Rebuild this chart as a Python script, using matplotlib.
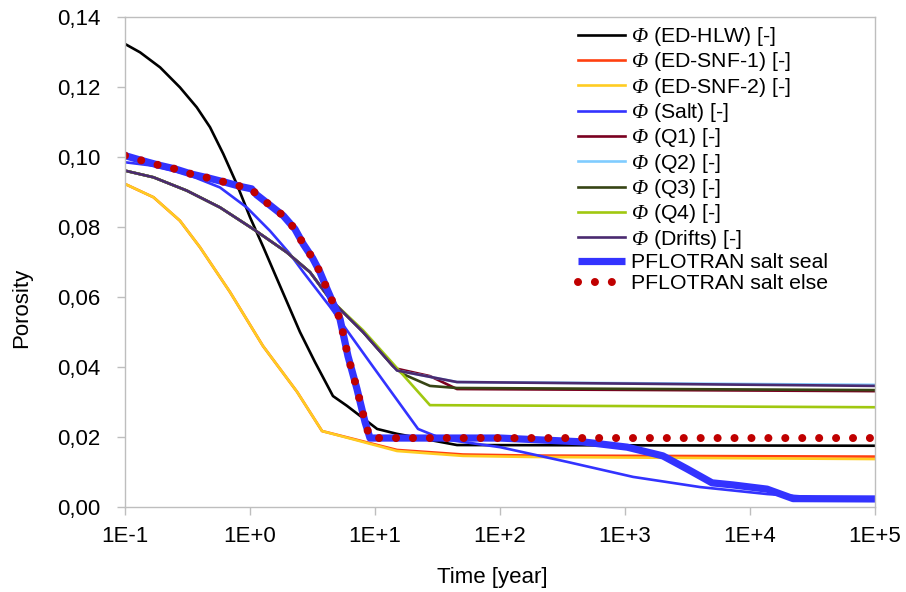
import numpy as np
import matplotlib
matplotlib.use("Agg")
import matplotlib.pyplot as plt
from matplotlib.ticker import FixedLocator, FuncFormatter, NullLocator

plt.rcParams['font.family'] = ['Liberation Sans', 'DejaVu Sans']
# Greek capitals are set in the math "rm" slot, so point it at a serif italic
plt.rcParams['mathtext.fontset'] = 'custom'
plt.rcParams['mathtext.rm'] = 'Liberation Serif:italic'
plt.rcParams['mathtext.it'] = 'Liberation Serif:italic'

# ---- data (time in years, porosity in [-]) ----
t_hlw = [0.1, 0.132, 0.191, 0.275, 0.375, 0.479, 0.611, 0.783, 1.0, 1.28, 1.58, 2.51, 3.31, 4.61, 5.97, 10.4, 15.0, 45.3, 1e5]
phi_hlw = [0.1323, 0.1299, 0.1256, 0.1199, 0.1142, 0.1085, 0.1009, 0.0923, 0.0828, 0.0742, 0.0666, 0.050, 0.0414,
           0.0317, 0.0289, 0.0223, 0.0209, 0.0177, 0.0175]

t_snf = [0.1, 0.169, 0.275, 0.398, 0.541, 0.692, 1.27, 2.38, 3.77, 15.0, 50.6, 174, 1e5]
phi_snf1 = [0.0923, 0.0885, 0.0818, 0.0742, 0.0671, 0.0614, 0.046, 0.0329, 0.0217, 0.0163, 0.0150, 0.0147, 0.0144]
phi_snf2 = [0.0923, 0.0885, 0.0818, 0.0742, 0.0671, 0.0614, 0.046, 0.0329, 0.0217, 0.0160, 0.0146, 0.0143, 0.0137]

t_salt = [0.1, 0.169, 0.312, 0.575, 0.941, 1.445, 2.089, 2.67, 4.37, 9.55, 22.1, 35.0, 100, 344, 1160, 3980, 13700,
          31600, 1e5]
phi_salt = [0.0985, 0.0975, 0.0951, 0.0913, 0.0856, 0.0789, 0.0723, 0.0671, 0.0572, 0.0403, 0.0223, 0.0194, 0.0171,
            0.0129, 0.0086, 0.0057, 0.0037, 0.0028, 0.0022]

t_drift = [0.1, 0.169, 0.312, 0.575, 1.063, 1.963, 3.02, 4.37, 8.02, 13.9, 15.0, 45.3, 1e5]
phi_drift = [0.0961, 0.0942, 0.0904, 0.0856, 0.0794, 0.0728, 0.0671, 0.0594, 0.050, 0.0403, 0.039, 0.0357, 0.0346]
phi_q2 = [0.0961, 0.0942, 0.0904, 0.0856, 0.0794, 0.0728, 0.0671, 0.0594, 0.050, 0.0403, 0.039, 0.0357, 0.0349]

t_q1 = [0.1, 0.169, 0.312, 0.575, 1.063, 1.963, 3.02, 4.37, 8.02, 13.9, 15.0, 27.5, 45.3, 1e5]
phi_q1 = [0.0961, 0.0942, 0.0904, 0.0856, 0.0794, 0.0728, 0.0671, 0.0594, 0.050, 0.0403, 0.0395, 0.0374, 0.0337, 0.0331]
t_q3 = [0.1, 0.169, 0.312, 0.575, 1.063, 1.963, 3.02, 4.37, 8.02, 13.9, 16.7, 27.5, 45.3, 1e5]
phi_q3 = [0.0961, 0.0942, 0.0904, 0.0856, 0.0794, 0.0728, 0.0671, 0.0594, 0.050, 0.0403, 0.038, 0.0346, 0.0340, 0.0334]
t_q4 = [0.1, 0.169, 0.312, 0.575, 1.063, 1.963, 3.02, 4.37, 8.02, 13.9, 27.5, 1e5]
phi_q4 = [0.0961, 0.0942, 0.0904, 0.0856, 0.0794, 0.0728, 0.0671, 0.0594, 0.0505, 0.0410, 0.0291, 0.0285]

t_seal = [0.1, 0.136, 0.185, 0.251, 0.341, 0.465, 0.631, 0.857, 1.03, 1.13, 1.46, 1.85, 2.29, 2.67, 3.17, 3.63, 4.13,
          5.25, 6.08, 7.18, 8.32, 9.12, 100, 461, 1040, 2010, 3130, 4970, 7310, 13700, 22100, 1e5]
phi_seal = [0.1004, 0.099, 0.0977, 0.0966, 0.0951, 0.094, 0.0928, 0.0915, 0.0909, 0.0892, 0.0861, 0.0832, 0.0794,
            0.0751, 0.0711, 0.0671, 0.0623, 0.0537, 0.0431, 0.0337, 0.0243, 0.0197, 0.0197, 0.0186, 0.0171, 0.0146,
            0.0109, 0.0069, 0.0063, 0.0051, 0.0024, 0.0023]

t_else = [0.1, 0.136, 0.185, 0.251, 0.341, 0.465, 0.631, 0.857, 1.03, 1.13, 1.46, 1.85, 2.29, 2.67, 3.17, 3.63, 4.13,
          5.25, 6.08, 7.18, 8.32, 9.12, 1e5]
phi_else = [0.1004, 0.099, 0.0977, 0.0966, 0.0951, 0.094, 0.0928, 0.0915, 0.0909, 0.0892, 0.0861, 0.0832, 0.0794,
            0.0751, 0.0711, 0.0671, 0.0623, 0.0537, 0.0431, 0.0337, 0.0243, 0.0197, 0.0197]

x_ticks = [1e-1, 1e0, 1e1, 1e2, 1e3, 1e4, 1e5]
x_ticklabels = ["1E-1", "1E+0", "1E+1", "1E+2", "1E+3", "1E+4", "1E+5"]
y_ticks = [0.00, 0.02, 0.04, 0.06, 0.08, 0.10, 0.12, 0.14]

PHI = r'$\Phi$'

fig = plt.figure(figsize=(9.06, 5.92), dpi=100)
ax = fig.add_axes([125 / 906, 1 - 507 / 592, 750 / 906, 490 / 592])

lw = 1.9
ax.plot(t_hlw, phi_hlw, color='black', lw=lw, label=PHI + ' (ED-HLW) [-]')
ax.plot(t_snf, phi_snf1, color='#FF4010', lw=lw, label=PHI + ' (ED-SNF-1) [-]')
ax.plot(t_snf, phi_snf2, color='#FFCC22', lw=lw, label=PHI + ' (ED-SNF-2) [-]')
ax.plot(t_salt, phi_salt, color='#3333FF', lw=lw, label=PHI + ' (Salt) [-]')
ax.plot(t_q1, phi_q1, color='#7A0020', lw=lw, label=PHI + ' (Q1) [-]')
ax.plot(t_drift, phi_q2, color='#80CCFF', lw=lw, label=PHI + ' (Q2) [-]')
ax.plot(t_q3, phi_q3, color='#364414', lw=lw, label=PHI + ' (Q3) [-]')
ax.plot(t_q4, phi_q4, color='#A0C810', lw=lw, label=PHI + ' (Q4) [-]')
ax.plot(t_drift, phi_drift, color='#4A2A70', lw=lw, label=PHI + ' (Drifts) [-]')
ax.plot(t_seal, phi_seal, color='#3333FF', lw=5.2, solid_joinstyle='round',
        solid_capstyle='butt', label='PFLOTRAN salt seal')
ax.plot(t_else, phi_else, color='#C00000', lw=5.8, linestyle=(0, (0.001, 2.1)),
        dash_capstyle='round', label='PFLOTRAN salt else')

ax.set_xscale('log')
ax.set_xlim(1e-1, 1e5)
ax.set_ylim(0, 0.14)
ax.xaxis.set_major_locator(FixedLocator(x_ticks))
ax.xaxis.set_minor_locator(NullLocator())
ax.set_xticks(x_ticks)
ax.set_xticklabels(x_ticklabels)
ax.set_yticks(y_ticks)
ax.yaxis.set_major_formatter(FuncFormatter(lambda v, p: f"{v:.2f}".replace('.', ',')))

grey = '#BEBEBE'
for s in ax.spines.values():
    s.set_color(grey)
    s.set_linewidth(1.0)
ax.tick_params(axis='both', which='major', direction='out', length=5.5, width=1.0,
               color=grey, labelsize=16, labelcolor='black')
ax.tick_params(axis='y', pad=12)
ax.tick_params(axis='x', pad=8)

fig.text(492 / 906, 1 - 578 / 592, 'Time [year]', ha='center', va='center', fontsize=16)
fig.text(22 / 906, 1 - 308 / 592, 'Porosity', ha='center', va='center', rotation=90, fontsize=16)

leg = ax.legend(loc='upper left', bbox_to_anchor=(578 / 906, 1 - 25 / 592),
                bbox_transform=fig.transFigure, frameon=False, fontsize=15.3,
                handlelength=2.2, handletextpad=0.3, labelspacing=0.11,
                borderpad=0, borderaxespad=0)

fig.savefig('out.png', dpi=100)
